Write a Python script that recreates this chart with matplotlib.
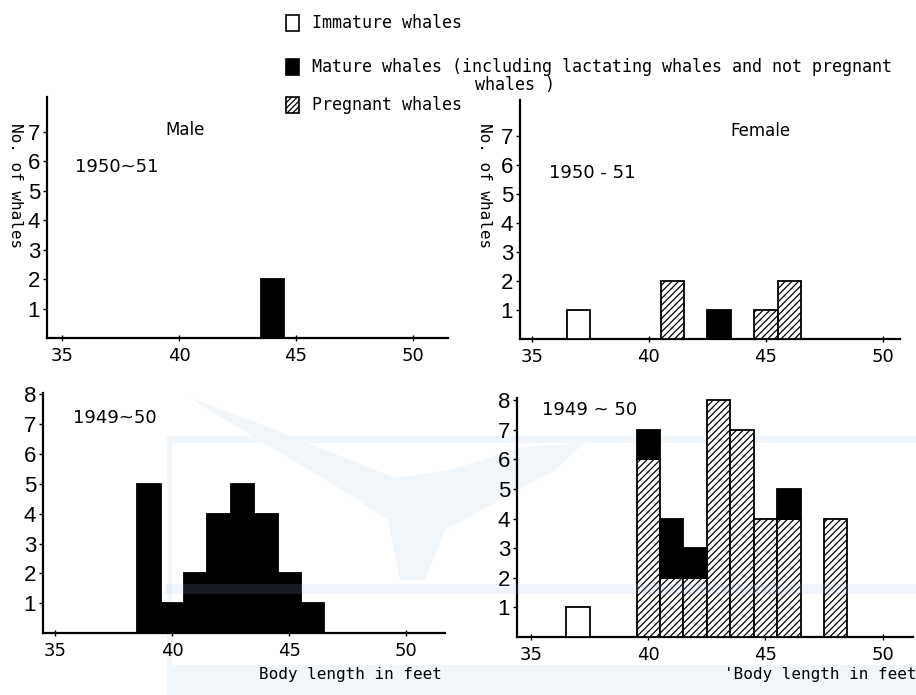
import matplotlib
matplotlib.use("Agg")
import matplotlib.pyplot as plt
from matplotlib.patches import Rectangle, Polygon

# body length classes (feet) and counts per category
male_5051_len = [44]
male_5051_mature = [2]

female_5051_immature_len = [37]
female_5051_immature = [1]
female_5051_mature_len = [43]
female_5051_mature = [1]
female_5051_pregnant_len = [41, 45, 46]
female_5051_pregnant = [2, 1, 2]

male_4950_len = [39, 40, 41, 42, 43, 44, 45, 46]
male_4950_mature = [5, 1, 2, 4, 5, 4, 2, 1]

female_4950_immature_len = [37]
female_4950_immature = [1]
female_4950_len = [40, 41, 42, 43, 44, 45, 46, 48]
female_4950_pregnant = [6, 2, 2, 8, 7, 4, 4, 4]
female_4950_mature = [1, 2, 1, 0, 0, 0, 1, 0]

x_ticks = [35, 40, 45, 50]

W, H = 916, 695
plt.rcParams['hatch.linewidth'] = 0.9

fig = plt.figure(figsize=(W / 100, H / 100), dpi=100)


def px(x, y):
    return x / W, 1 - y / H


def fig_rect(x, y, w, h, **kw):
    # rectangle given in pixels from the top-left corner
    x0, y0 = px(x, y + h)
    fig.patches.append(Rectangle((x0, y0), w / W, h / H, transform=fig.transFigure, **kw))


# faint emblem printed behind the lower panels
pale = '#f1f6fb'
fig_rect(167, 436, 749, 7, facecolor=pale, edgecolor='none', zorder=-5)
fig_rect(167, 436, 5, 259, facecolor=pale, edgecolor='none', zorder=-5)
fig_rect(167, 665, 749, 30, facecolor=pale, edgecolor='none', zorder=-5)
tail = [(190, 398), (250, 420), (330, 452), (395, 478), (450, 470), (520, 448),
        (585, 442), (555, 470), (500, 500), (445, 530), (425, 580), (400, 580),
        (388, 520), (330, 482), (262, 442)]
fig.patches.append(Polygon([px(x, y) for x, y in tail], closed=True,
                           transform=fig.transFigure, facecolor=pale,
                           edgecolor='none', zorder=-5))


def make_axes(left, top, right, bottom, xlim, ylim, yticks):
    ax = fig.add_axes([left / W, 1 - bottom / H, (right - left) / W, (bottom - top) / H])
    ax.set_xlim(*xlim)
    ax.set_ylim(*ylim)
    for s in ['top', 'right']:
        ax.spines[s].set_visible(False)
    for s in ['left', 'bottom']:
        ax.spines[s].set_linewidth(1.6)
    ax.set_xticks(x_ticks)
    ax.set_yticks(list(yticks), labels=[str(v) for v in yticks],
                  fontfamily='Liberation Sans', fontsize=16)
    ax.tick_params(axis='x', direction='inout', length=5, width=1, labelsize=13, pad=4)
    ax.tick_params(axis='y', direction='out', length=3, width=1, pad=2)
    ax.patch.set_alpha(0)
    return ax


def bars(ax, xs, heights, bottoms=None, kind='mature'):
    if bottoms is None:
        bottoms = [0] * len(xs)
    styles = {
        'immature': dict(facecolor='white', edgecolor='black', hatch=None),
        'mature': dict(facecolor='black', edgecolor='black', hatch=None),
        'pregnant': dict(facecolor='white', edgecolor='black', hatch='/////'),
    }
    st = styles[kind]
    keep = [(x, h, b) for x, h, b in zip(xs, heights, bottoms) if h > 0]
    if not keep:
        return
    x, h, b = zip(*keep)
    ax.bar(x, h, width=1.0, bottom=b, linewidth=1.3, zorder=3, **st)


# top left: male 1950-51
ax1 = make_axes(47, 97, 448, 338, (34.36, 51.5), (0, 8.17), range(1, 8))
bars(ax1, male_5051_len, male_5051_mature, kind='mature')

# top right: female 1950-51
ax2 = make_axes(520, 100, 900, 339, (34.49, 50.73), (0, 8.24), range(1, 8))
bars(ax2, female_5051_immature_len, female_5051_immature, kind='immature')
bars(ax2, female_5051_mature_len, female_5051_mature, kind='mature')
bars(ax2, female_5051_pregnant_len, female_5051_pregnant, kind='pregnant')

# bottom left: male 1949-50
ax3 = make_axes(43, 393, 445, 633, (34.47, 51.65), (0, 8.05), range(1, 9))
bars(ax3, male_4950_len, male_4950_mature, kind='mature')

# bottom right: female 1949-50
ax4 = make_axes(517, 398, 913, 637, (34.4, 51.3), (0, 8.07), range(1, 9))
bars(ax4, female_4950_immature_len, female_4950_immature, kind='immature')
bars(ax4, female_4950_len, female_4950_pregnant, kind='pregnant')
bars(ax4, female_4950_len, female_4950_mature, bottoms=female_4950_pregnant, kind='mature')

# emblem stripe shows through the bars
fig_rect(165, 584, 751, 10, facecolor=(0.6, 0.75, 0.88), alpha=0.15,
         edgecolor='none', zorder=10)

# panel labels
fig.text(*px(185, 130), "Male", fontsize=12, ha='center', va='center')
fig.text(*px(117, 167), "1950~51", fontsize=13, ha='center', va='center')
fig.text(*px(760, 131), "Female", fontsize=12, ha='center', va='center')
fig.text(*px(592, 173), "1950 - 51", fontsize=13, ha='center', va='center')
fig.text(*px(115, 418), "1949~50", fontsize=13, ha='center', va='center')
fig.text(*px(590, 410), "1949 ~ 50", fontsize=13, ha='center', va='center')

mono = 'DejaVu Sans Mono'
fig.text(*px(15, 186), "No. of whales", fontsize=11.5, family=mono,
         rotation=270, ha='center', va='center')
fig.text(*px(485, 186), "No. of whales", fontsize=11.5, family=mono,
         rotation=270, ha='center', va='center')
fig.text(*px(350, 675), "Body length in feet", fontsize=11.5, family=mono,
         ha='center', va='center')
fig.text(*px(820, 675), "'Body length in feet", fontsize=11.5, family=mono,
         ha='center', va='center')

# key
key_items = [
    (23, 'immature', "Immature whales"),
    (67, 'mature', "Mature whales (including lactating whales and not pregnant"),
    (105, 'pregnant', "Pregnant whales"),
]
for y, kind, label in key_items:
    face = 'black' if kind == 'mature' else 'white'
    hatch = '//////' if kind == 'pregnant' else None
    fig_rect(286, y - 8, 13, 16, facecolor=face, edgecolor='black', hatch=hatch,
             linewidth=1.2)
    fig.text(*px(312, y), label, fontsize=12, family=mono, ha='left', va='center')
fig.text(*px(515, 85), "whales )", fontsize=12, family=mono, ha='center', va='center')

fig.savefig("out.png", dpi=100)
